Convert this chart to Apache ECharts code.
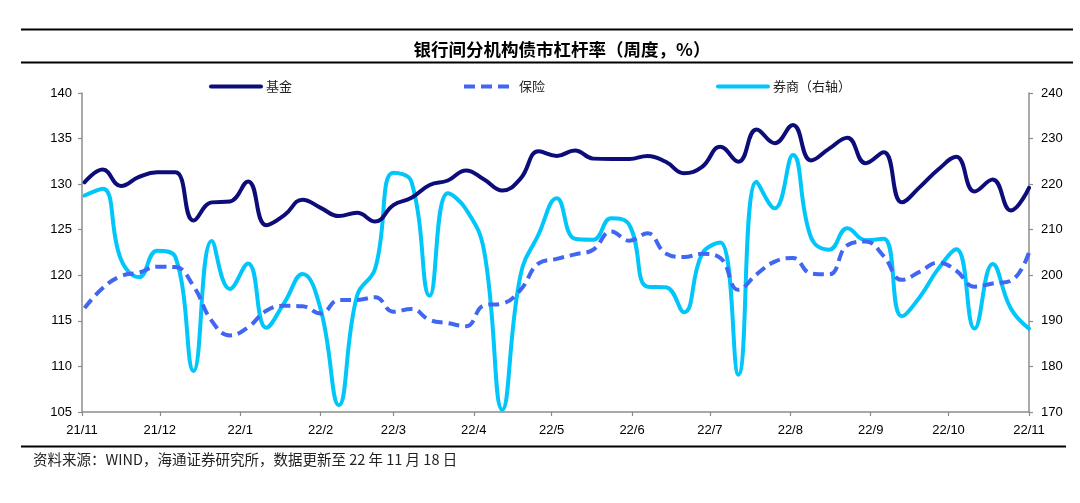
<!DOCTYPE html>
<html><head><meta charset="utf-8">
<script src="https://cdn.jsdelivr.net/npm/echarts@6/dist/echarts.min.js"></script>
<style>html,body{margin:0;padding:0;background:#fff}#c{width:1080px;height:503px}</style>
</head><body><div id="c"></div>
<script>
var dates = ['2021-11-02','2021-11-09','2021-11-16','2021-11-23','2021-11-30','2021-12-07','2021-12-14','2021-12-21','2021-12-28',
'2022-01-04','2022-01-11','2022-01-18','2022-01-25','2022-02-01','2022-02-08','2022-02-15','2022-02-22',
'2022-03-01','2022-03-08','2022-03-15','2022-03-22','2022-03-29','2022-04-05','2022-04-12','2022-04-19','2022-04-26',
'2022-05-03','2022-05-10','2022-05-17','2022-05-24','2022-05-31','2022-06-07','2022-06-14','2022-06-21','2022-06-28',
'2022-07-05','2022-07-12','2022-07-19','2022-07-26','2022-08-02','2022-08-09','2022-08-16','2022-08-23','2022-08-30',
'2022-09-06','2022-09-13','2022-09-20','2022-09-27','2022-10-04','2022-10-11','2022-10-18','2022-10-25','2022-11-01'];
var fund = [130.2,131.6,129.8,130.8,131.3,131.3,126.0,128.0,128.1,130.3,125.5,126.6,128.3,127.4,126.5,126.85,125.9,
127.7,128.5,129.9,130.4,131.5,130.5,129.3,130.6,133.6,133.1,133.7,132.8,132.75,132.75,133.1,132.45,131.2,131.9,
134.1,132.45,136.0,134.5,136.5,132.6,133.9,135.1,132.3,133.5,128.0,129.7,131.6,133.0,129.2,130.5,127.1,129.6];
var insurance = [116.4,118.6,119.9,120.3,120.95,120.9,118.8,115.0,113.4,114.3,116.1,116.65,116.6,115.8,117.3,117.3,117.6,
116.0,116.3,115.1,114.75,114.4,116.7,116.9,118.4,121.3,121.8,122.3,122.8,124.8,123.8,124.6,122.4,122.0,122.35,
121.9,118.4,120.1,121.5,121.9,120.2,120.1,123.3,123.7,122.1,119.5,120.4,121.4,120.5,118.75,119.1,119.4,122.5];
var broker = [217.5,219.0,203.5,199.6,205.4,204.0,179.0,207.5,197.0,202.6,188.5,194.0,200.3,192.5,171.5,195.5,201.5,
222.5,220.5,195.5,218.0,214.5,205.3,170.5,200.0,209.0,216.9,208.0,207.8,212.5,211.0,197.5,197.4,191.9,204.7,
207.2,178.2,220.5,214.7,226.4,208.3,205.6,210.3,207.7,208.0,191.0,195.3,201.4,205.7,188.3,202.5,192.7,188.3];
var names = ['基金','保险','券商（右轴）'];
var leftTicks = {min:105, max:140, interval:5};
var rightTicks = {min:170, max:240, interval:10};
var xRange = {min:'2021-11-01', max:'2022-11-01'};

function pairs(arr){ return dates.map(function(d,i){ return [d, arr[i]]; }); }

var chart = echarts.init(document.getElementById('c'), null, {renderer:'canvas'});
var axisCol = '#8c8c8c';
var labelStyle = {color:'#000', fontFamily:'Arial, "Liberation Sans"', fontSize:13};
var legendText = {color:'#222', fontFamily:'"Noto Sans CJK SC"', fontSize:13};
function legend(name, left){
  return {data:[name], left:left, top:75, itemWidth:50, itemHeight:12, itemGap:0, textStyle:legendText,
    selectedMode:false, itemStyle:{opacity:0}, lineStyle:{width:4}};
}
chart.setOption({
  animation:false,
  title:{text:'银行间分机构债市杠杆率（周度，%）', left:557, textAlign:'center', top:36,
    textStyle:{fontFamily:'"Noto Sans CJK SC"', fontWeight:'bold', fontSize:17.5, color:'#000'}},
  legend:[legend(names[0],204), legend(names[1],457), legend(names[2],711)],
  grid:{left:82, right:51, top:93, bottom:91, containLabel:false},
  xAxis:{type:'time', min:xRange.min, max:xRange.max, splitNumber:12,
    minInterval:28*86400000, maxInterval:31*86400000,
    axisLine:{lineStyle:{color:axisCol, width:1.5}},
    axisTick:{show:true, length:4, lineStyle:{color:axisCol, width:1.2}},
    minorTick:{show:false}, splitLine:{show:false},
    axisLabel:Object.assign({margin:12, hideOverlap:false, showMinLabel:true, showMaxLabel:true,
      formatter:function(v){var d=new Date(v); return String(d.getFullYear()).slice(2)+'/'+(d.getMonth()+1);}}, labelStyle)},
  yAxis:[
    {type:'value', min:leftTicks.min, max:leftTicks.max, interval:leftTicks.interval, position:'left',
      axisLine:{show:true, lineStyle:{color:axisCol, width:1.5}},
      axisTick:{show:true, length:4, lineStyle:{color:axisCol, width:1.2}},
      splitLine:{show:false}, axisLabel:Object.assign({margin:10}, labelStyle)},
    {type:'value', min:rightTicks.min, max:rightTicks.max, interval:rightTicks.interval, position:'right',
      axisLine:{show:true, lineStyle:{color:axisCol, width:1.5}},
      axisTick:{show:true, length:4, lineStyle:{color:axisCol, width:1.2}},
      splitLine:{show:false}, axisLabel:Object.assign({margin:12}, labelStyle)}
  ],
  series:[
    {name:names[0], type:'line', yAxisIndex:0, data:pairs(fund), smooth:0.45, symbol:'none',
      lineStyle:{color:'#0d0d7a', width:4, cap:'round'}, itemStyle:{color:'#0d0d7a'}, z:3},
    {name:names[1], type:'line', yAxisIndex:0, data:pairs(insurance), smooth:0.45, symbol:'none',
      lineStyle:{color:'#4066f2', width:4, type:[11,6]}, itemStyle:{color:'#4066f2'}, z:2},
    {name:names[2], type:'line', yAxisIndex:1, data:pairs(broker), smooth:0.45, symbol:'none',
      lineStyle:{color:'#00c6fa', width:4, cap:'round'}, itemStyle:{color:'#00c6fa'}, z:1}
  ],
  graphic:[
    {type:'line', shape:{x1:21,y1:29.5,x2:1073,y2:29.5}, style:{stroke:'#000', lineWidth:2}},
    {type:'line', shape:{x1:21,y1:62.5,x2:1073,y2:62.5}, style:{stroke:'#000', lineWidth:2}},
    {type:'line', shape:{x1:21,y1:446.5,x2:1066,y2:446.5}, style:{stroke:'#000', lineWidth:2}},
    {type:'text', left:33, top:452, style:{text:'资料来源：WIND，海通证券研究所，数据更新至 22 年 11 月 18 日',
      fill:'#222', font:'14.5px "Noto Sans CJK SC"'}}
  ]
});
</script></body></html>
